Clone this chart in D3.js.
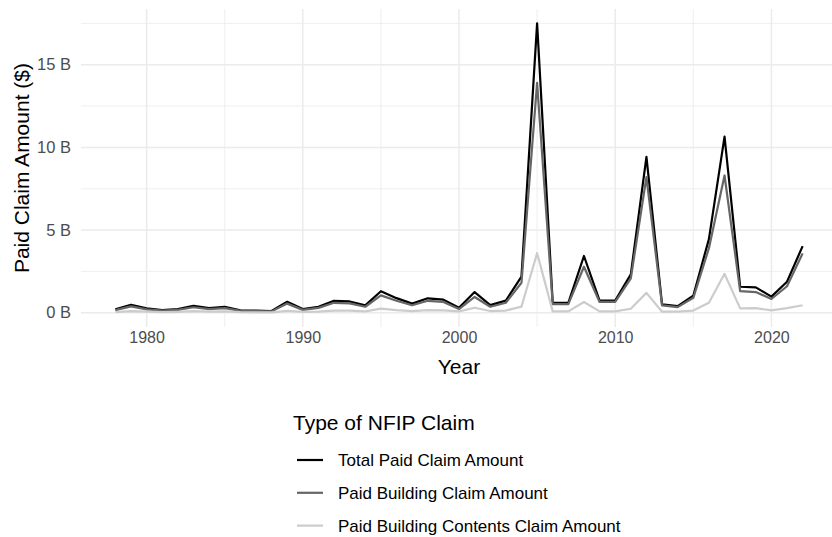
<!DOCTYPE html>
<html>
<head>
<meta charset="utf-8">
<script src="https://cdn.jsdelivr.net/npm/d3@7"></script>
<style>
  body { margin: 0; background: #fff; }
  text { font-family: "Liberation Sans", Arial, sans-serif; }
</style>
</head>
<body>
<svg id="chart" width="832" height="537"></svg>
<script>
// data (billions of dollars)
const years = d3.range(1978, 2023)
const totalPaid = [0.2,0.48,0.26,0.16,0.22,0.42,0.28,0.36,0.14,0.12,0.1,0.66,0.22,0.36,0.72,0.68,0.44,1.3,0.88,0.55,0.87,0.79,
  0.3,1.25,0.46,0.73,2.18,17.5,0.6,0.6,3.43,0.73,0.73,2.32,9.43,0.5,0.4,1.03,4.45,10.65,1.57,1.53,0.97,1.87,4.03]
const buildingPaid = [0.16,0.38,0.2,0.13,0.17,0.33,0.22,0.28,0.11,0.1,0.08,0.55,0.17,0.29,0.6,0.56,0.36,1.05,0.72,0.45,0.72,0.65,
  0.22,0.95,0.36,0.6,1.81,13.9,0.52,0.52,2.78,0.65,0.65,2.08,8.2,0.44,0.34,0.9,3.9,8.3,1.31,1.25,0.83,1.6,3.59]
const contentsPaid = [0.04,0.1,0.06,0.03,0.05,0.09,0.06,0.08,0.03,0.02,0.02,0.11,0.05,0.07,0.12,0.12,0.08,0.25,0.16,0.1,0.15,0.14,
  0.08,0.3,0.1,0.13,0.37,3.6,0.08,0.08,0.65,0.08,0.08,0.24,1.2,0.06,0.06,0.13,0.6,2.35,0.26,0.28,0.14,0.28,0.45]

const seriesNames = ["Total Paid Claim Amount", "Paid Building Claim Amount", "Paid Building Contents Claim Amount"]
const seriesColors = ["#000000", "#666666", "#cccccc"]
const seriesValues = [totalPaid, buildingPaid, contentsPaid]

const xTicks = [1980, 1990, 2000, 2010, 2020]
const xMinor = [1985, 1995, 2005, 2015]
const yTicks = [0, 5, 10, 15]
const yMinor = [2.5, 7.5, 12.5, 17.5]

const svg = d3.select("#chart")
const panel = {left: 81, right: 837, top: 9, bottom: 327}

const x = d3.scaleLinear().domain([1975.8, 2024.2]).range([panel.left, panel.right])
const y = d3.scaleLinear().domain([-0.865, 18.37]).range([panel.bottom, panel.top])

// grid
const grid = svg.append("g")
grid.selectAll(".ymin").data(yMinor).enter().append("line")
  .attr("x1", panel.left).attr("x2", panel.right)
  .attr("y1", d => y(d)).attr("y2", d => y(d))
  .attr("stroke", "#ebebeb").attr("stroke-width", 0.8)
grid.selectAll(".xmin").data(xMinor).enter().append("line")
  .attr("y1", panel.top).attr("y2", panel.bottom)
  .attr("x1", d => x(d)).attr("x2", d => x(d))
  .attr("stroke", "#ebebeb").attr("stroke-width", 0.8)
grid.selectAll(".ymaj").data(yTicks).enter().append("line")
  .attr("x1", panel.left).attr("x2", panel.right)
  .attr("y1", d => y(d)).attr("y2", d => y(d))
  .attr("stroke", "#ebebeb").attr("stroke-width", 1.5)
grid.selectAll(".xmaj").data(xTicks).enter().append("line")
  .attr("y1", panel.top).attr("y2", panel.bottom)
  .attr("x1", d => x(d)).attr("x2", d => x(d))
  .attr("stroke", "#ebebeb").attr("stroke-width", 1.5)

// axes
const yAxis = svg.append("g")
  .attr("transform", "translate(" + panel.left + ",0)")
  .call(d3.axisLeft(y).tickValues(yTicks).tickSize(0).tickPadding(10).tickFormat(d => d + " B"))
yAxis.select(".domain").remove()
yAxis.selectAll("text").attr("fill", "#4d4d4d").style("font-size", "16.5px")

const xAxis = svg.append("g")
  .attr("transform", "translate(0," + panel.bottom + ")")
  .call(d3.axisBottom(x).tickValues(xTicks).tickSize(0).tickPadding(5).tickFormat(d3.format("d")))
xAxis.select(".domain").remove()
xAxis.selectAll("text").attr("fill", "#4d4d4d").style("font-size", "16px")

svg.append("text")
  .attr("x", x(2000)).attr("y", 374)
  .attr("text-anchor", "middle").style("font-size", "21px")
  .text("Year")
svg.append("text")
  .attr("transform", "translate(29," + y(8.75) + ") rotate(-90)")
  .attr("text-anchor", "middle").style("font-size", "21px")
  .text("Paid Claim Amount ($)")

// lines
const line = d3.line().x(d => x(d[0])).y(d => y(d[1]))
seriesValues.forEach(function(vals, i) {
  svg.append("path")
    .datum(years.map((yr, j) => [yr, vals[j]]))
    .attr("fill", "none")
    .attr("stroke", seriesColors[i])
    .attr("stroke-width", 2.2)
    .attr("stroke-linejoin", "round")
    .attr("d", line)
})

// legend
const legend = svg.append("g").attr("transform", "translate(293,0)")
legend.append("text").attr("x", 0).attr("y", 430).style("font-size", "21px").text("Type of NFIP Claim")
const rows = legend.selectAll(".row").data(seriesNames).enter().append("g")
  .attr("transform", (d, i) => "translate(0," + (460 + i * 32.8) + ")")
rows.append("line").attr("x1", 4).attr("x2", 30).attr("y1", 0).attr("y2", 0)
  .attr("stroke", (d, i) => seriesColors[i]).attr("stroke-width", 2.2)
rows.append("text").attr("x", 45).attr("y", 6).style("font-size", "17px").text(d => d)
</script>
</body>
</html>
